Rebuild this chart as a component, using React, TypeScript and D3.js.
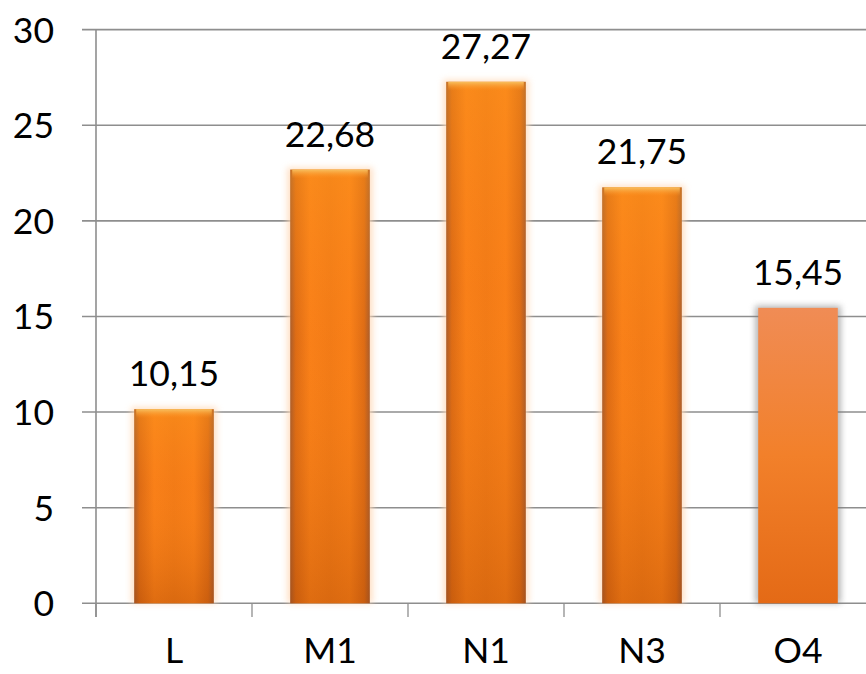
import React from "react";
import * as d3 from "d3";

const categories = ["L", "M1", "N1", "N3", "O4"];
const values = [10.15, 22.68, 27.27, 21.75, 15.45];
const valueLabels = ["10,15", "22,68", "27,27", "21,75", "15,45"];
const yTicks = [0, 5, 10, 15, 20, 25, 30];

const W = 866;
const H = 674;
const FONT = "Lato, 'Open Sans', sans-serif";

export default function App() {
  const x = d3
    .scaleBand<string>()
    .domain(categories)
    .range([96, 876])
    .paddingInner(0.49)
    .paddingOuter(0.245);
  const y = d3.scaleLinear().domain([0, 30]).range([603.3, 29.6]);
  const step = x.step();
  const bw = x.bandwidth();
  const boundaries = d3.range(categories.length + 1).map((i) => 96 + i * step);

  return (
    <svg
      width={W}
      height={H}
      style={{ position: "absolute", left: 0, top: 0, background: "#fff" }}
    >
      <defs>
        <linearGradient id="hgrad" x1="0" x2="1" y1="0" y2="0">
          <stop offset="0%" stopColor="#A65A2C" />
          <stop offset="7%" stopColor="#DC6A14" />
          <stop offset="25%" stopColor="#F97F18" />
          <stop offset="50%" stopColor="#F27A16" />
          <stop offset="75%" stopColor="#F97F18" />
          <stop offset="93%" stopColor="#DC6A14" />
          <stop offset="100%" stopColor="#A65A2C" />
        </linearGradient>
        <linearGradient id="vshade" x1="0" x2="0" y1="0" y2="1">
          <stop offset="0%" stopColor="#FFA020" stopOpacity="0.35" />
          <stop offset="40%" stopColor="#FF9020" stopOpacity="0.05" />
          <stop offset="100%" stopColor="#A04000" stopOpacity="0.3" />
        </linearGradient>
        <linearGradient id="cap" x1="0" x2="0" y1="0" y2="1">
          <stop offset="0%" stopColor="#F7C060" stopOpacity="1" />
          <stop offset="100%" stopColor="#FF9020" stopOpacity="0" />
        </linearGradient>
        <linearGradient id="o4grad" x1="0" x2="0" y1="0" y2="1">
          <stop offset="0%" stopColor="#F08C55" />
          <stop offset="50%" stopColor="#F2802A" />
          <stop offset="100%" stopColor="#E46A16" />
        </linearGradient>
        <filter id="glow" x="-20%" y="-5%" width="140%" height="110%">
          <feGaussianBlur stdDeviation="3" />
        </filter>
      </defs>

      {/* gridlines */}
      {yTicks.map((t) => (
        <line
          key={"g" + t}
          x1={82}
          x2={W}
          y1={y(t)}
          y2={y(t)}
          stroke="#8E8E8E"
          strokeWidth={1.6}
        />
      ))}

      {/* y axis line */}
      <line x1={96} x2={96} y1={y(30)} y2={617} stroke="#8E8E8E" strokeWidth={1.6} />

      {/* x axis ticks */}
      {boundaries.map((b, i) => (
        <line
          key={"xt" + i}
          x1={b}
          x2={b}
          y1={y(0)}
          y2={617}
          stroke="#8E8E8E"
          strokeWidth={1.3}
        />
      ))}

      {/* bars */}
      {categories.map((c, i) => {
        const x0 = x(c)!;
        const top = y(values[i]);
        const h = y(0) - top;
        const isLast = i === categories.length - 1;
        return (
          <g key={c}>
            <rect
              x={x0 - 3}
              y={top - 2}
              width={bw + 6}
              height={h + 2}
              fill={isLast ? "#777" : "#FFD9B8"}
              opacity={isLast ? 0.55 : 0.8}
              filter="url(#glow)"
            />
            {isLast ? (
              <rect x={x0} y={top} width={bw} height={h} fill="url(#o4grad)" />
            ) : (
              <>
                <rect x={x0} y={top} width={bw} height={h} fill="url(#hgrad)" />
                <rect x={x0} y={top} width={bw} height={h} fill="url(#vshade)" />
                <rect x={x0 + 2} y={top} width={bw - 4} height={9} fill="url(#cap)" />
              </>
            )}
          </g>
        );
      })}

      {/* value labels */}
      {categories.map((c, i) => (
        <text
          key={"v" + c}
          x={x(c)! + bw / 2}
          y={y(values[i]) - 23}
          textAnchor="middle"
          fontFamily={FONT}
          fontSize={35.5}
          fill="#000"
        >
          {valueLabels[i]}
        </text>
      ))}

      {/* y tick labels */}
      {yTicks.map((t) => (
        <text
          key={"yl" + t}
          x={54}
          y={y(t) + 13}
          textAnchor="end"
          fontFamily={FONT}
          fontSize={35.5}
          fill="#000"
        >
          {t}
        </text>
      ))}

      {/* x category labels */}
      {categories.map((c) => (
        <text
          key={"xl" + c}
          x={x(c)! + bw / 2}
          y={663}
          textAnchor="middle"
          fontFamily={FONT}
          fontSize={35.5}
          fill="#000"
        >
          {c}
        </text>
      ))}
    </svg>
  );
}
